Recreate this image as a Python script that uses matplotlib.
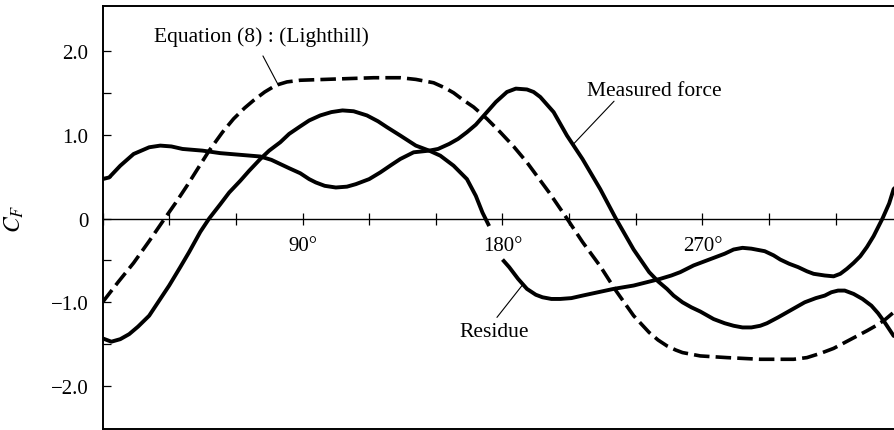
import matplotlib
matplotlib.use("Agg")
import matplotlib.pyplot as plt
import numpy as np
from matplotlib.ticker import FixedLocator, MultipleLocator

plt.rcParams["font.family"] = ["Liberation Serif", "DejaVu Serif"]
plt.rcParams["mathtext.fontset"] = "stix"

# Force coefficient over one stroke cycle (crank angle in degrees)
lighthill_deg = [0, 7, 14, 21, 28, 33, 38, 43, 48, 54, 59, 64, 68, 73, 78,
                 83, 89, 100, 111, 122, 134, 141, 149, 154, 158, 162, 167,
                 173, 179, 185, 191, 196, 201, 209, 216, 224, 231, 239, 246,
                 250, 254, 258, 261, 265, 269, 275, 281, 296, 311, 317, 323,
                 329, 334, 339, 344, 348, 352, 356, 360]
lighthill_cf = [-1.00, -0.76, -0.53, -0.27, 0.00, 0.19, 0.39, 0.60, 0.81,
                1.03, 1.19, 1.32, 1.41, 1.51, 1.59, 1.63, 1.65, 1.66, 1.67,
                1.68, 1.68, 1.66, 1.62, 1.56, 1.50, 1.42, 1.33, 1.19, 1.03,
                0.86, 0.67, 0.49, 0.31, 0.00, -0.28, -0.57, -0.86, -1.16,
                -1.36, -1.45, -1.52, -1.57, -1.60, -1.62, -1.64, -1.65, -1.66,
                -1.68, -1.68, -1.66, -1.61, -1.55, -1.48, -1.41, -1.34, -1.28,
                -1.21, -1.12, -1.00]

measured_deg = [0, 4, 8, 12, 16, 21, 25, 30, 35, 39, 44, 48, 53, 57, 62, 66,
                71, 75, 80, 84, 89, 93, 98, 103, 108, 113, 119, 124, 128,
                134, 141, 147, 151, 156, 160, 164, 168, 171, 174, 177, 182,
                186, 191, 194, 197, 203, 209, 216, 224, 231, 239, 246, 250,
                254, 257, 261, 265, 269, 275, 280, 284, 288, 292, 296, 299,
                304, 308, 312, 316, 321, 325, 328, 331, 334, 338, 342, 346,
                349, 352, 356, 360]
measured_cf = [-1.43, -1.47, -1.44, -1.38, -1.29, -1.16, -1.00, -0.80, -0.58,
               -0.40, -0.16, 0.00, 0.17, 0.31, 0.45, 0.57, 0.71, 0.81, 0.91,
               1.01, 1.10, 1.17, 1.23, 1.27, 1.29, 1.28, 1.23, 1.16, 1.09,
               0.99, 0.87, 0.81, 0.83, 0.89, 0.95, 1.03, 1.12, 1.21, 1.30,
               1.39, 1.51, 1.55, 1.54, 1.51, 1.45, 1.27, 0.99, 0.71, 0.35,
               0.00, -0.37, -0.64, -0.75, -0.84, -0.92, -1.00, -1.06, -1.11,
               -1.20, -1.25, -1.28, -1.30, -1.30, -1.28, -1.25, -1.18, -1.12,
               -1.06, -1.00, -0.95, -0.92, -0.88, -0.86, -0.86, -0.90, -0.96,
               -1.04, -1.13, -1.24, -1.40, -1.43]

# gap near 180 deg leaves room for the tick label
residue_deg = [0, 3, 8, 14, 21, 26, 31, 36, 45, 53, 62, 71, 76, 80, 84,
               89, 93, 96, 100, 105, 110, 114, 120, 125, 130, 134, 140, 147,
               152, 158, 164, 168, 171, 174, 177, 180, 183, 187, 191, 195,
               198, 202, 206, 211, 216, 223, 230, 239, 245, 251, 256, 260,
               266, 271, 275, 280, 284, 288, 292, 298, 302, 305, 309, 313,
               317, 320, 325, 329, 332, 335, 338, 341, 344, 347, 351, 354,
               356, 360]
residue_cf = [0.47, 0.49, 0.63, 0.77, 0.85, 0.87, 0.86, 0.83, 0.81,
              0.78, 0.76, 0.74, 0.70, 0.65, 0.60, 0.54, 0.47, 0.43, 0.39,
              0.37, 0.38, 0.41, 0.47, 0.55, 0.64, 0.71, 0.79, 0.81, 0.75,
              0.63, 0.47, 0.27, 0.07, -0.09, np.nan, -0.49, -0.58, -0.72,
              -0.84, -0.91, -0.94, -0.96, -0.96, -0.95, -0.92, -0.88, -0.84,
              -0.80, -0.76, -0.72, -0.68, -0.64, -0.56, -0.51, -0.47, -0.42,
              -0.37, -0.35, -0.36, -0.39, -0.44, -0.49, -0.54, -0.58, -0.63,
              -0.66, -0.68, -0.69, -0.66, -0.60, -0.53, -0.45, -0.34, -0.21,
              0.00, 0.18, 0.35, 0.47]

x_labels = ["90°", "180°", "270°"]
x_label_pos = [90, 180, 270]
y_label_pos = [-2, -1, 0, 1, 2]
y_labels = ["\u22122.0", "\u22121.0", "0", "1.0", "2.0"]

fig = plt.figure(figsize=(8.94, 4.31), dpi=100)
ax = fig.add_axes([102.5 / 894, 1 / 431, 800 / 894, 423 / 431])

ax.plot(measured_deg, measured_cf, color="black", lw=2.8,
        solid_capstyle="butt", solid_joinstyle="round")
ax.plot(residue_deg, residue_cf, color="black", lw=2.8,
        solid_capstyle="butt", solid_joinstyle="round")
ax.plot(lighthill_deg, lighthill_cf, color="black", lw=2.6,
        linestyle=(0, (4.3, 1.7)), dash_capstyle="butt")

ax.set_xlim(0, 360)
ax.set_ylim(-2.512, 2.536)

# x axis runs along CF = 0, the box is closed with a separate line
ax.spines["bottom"].set_position(("data", 0))
ax.spines["bottom"].set_linewidth(1.0)
for side in ("left", "top", "right"):
    ax.spines[side].set_linewidth(1.4)
ax.plot([0, 1], [0, 0], transform=ax.transAxes, color="black", lw=1.4,
        clip_on=False)

ax.xaxis.set_major_locator(FixedLocator(x_label_pos))
ax.xaxis.set_minor_locator(MultipleLocator(30))
ax.set_xticklabels(x_labels)
ax.tick_params(axis="x", which="both", direction="inout", length=8.6,
               width=0.9, labelsize=15, pad=8)

ax.set_yticks(y_label_pos)
ax.set_yticklabels(y_labels)
ax.yaxis.set_minor_locator(FixedLocator([-1.5, -0.5, 0.5, 1.5]))
ax.tick_params(axis="y", which="both", direction="in", length=5.8,
               width=0.9, labelsize=15, pad=10)

ax.set_ylabel(r"$C_F$", fontsize=17, labelpad=18)


def leader(text, tx, ty, x0, y0, x_curve, xs, ys):
    y_curve = np.interp(x_curve, xs, np.nan_to_num(ys))
    ax.annotate("", xy=(x_curve, y_curve), xytext=(x0, y0),
                arrowprops=dict(arrowstyle="-", lw=0.8, color="black",
                                shrinkA=0, shrinkB=0))
    ax.text(tx, ty, text, fontsize=15.5, ha="center", va="center")


leader("Equation (8) : (Lighthill)", 71.3, 2.18, 72.2, 1.94, 79,
       lighthill_deg, lighthill_cf)
leader("Measured force", 248.4, 1.53, 230.2, 1.40, 211.7,
       measured_deg, measured_cf)
leader("Residue", 176.2, -1.35, 177.5, -1.18, 189.2,
       residue_deg, residue_cf)

fig.savefig("out.png", dpi=100)
